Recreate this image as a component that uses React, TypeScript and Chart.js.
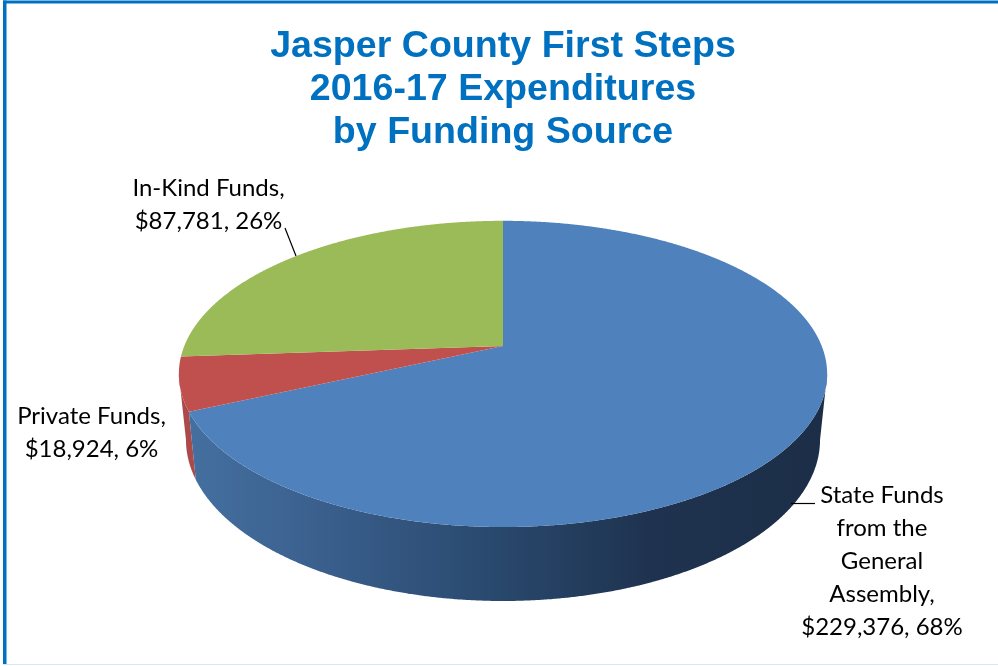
import React, { useEffect, useRef } from "react";
import { Chart, registerables } from "chart.js";

Chart.register(...registerables);

const categories = ["State Funds from the General Assembly", "Private Funds", "In-Kind Funds"];
const expenditures = [229376, 18924, 87781];
const percents = ["68%", "6%", "26%"];
const titleLines = ["Jasper County First Steps", "2016-17 Expenditures", "by Funding Source"];
const topColors = ["#4f81bd", "#c0504d", "#9bbb59"];

const labelLines = [
  ["State Funds", "from the", "General", "Assembly,", "$229,376, 68%"],
  ["Private Funds,", "$18,924, 6%"],
  ["In-Kind Funds,", "$87,781, 26%"],
];
const labelPlacement = [
  { x: 882, y: 503 },
  { x: 91.5, y: 424 },
  { x: 208.5, y: 196 },
];
const leaders = [
  [[791, 503.5], [815, 503.5]],
  null,
  [[285, 228], [296, 256]],
];

const K = 0.183;
const DEG = Math.PI / 180;

function faceProject(cx: number, cy: number, R: number, a: number): [number, number] {
  const u = Math.cos(a), v = Math.sin(a), d = 1 - K * v;
  return [cx + (318.5 / 191) * R * u / d, cy + (147.9 / 191) * R * v / d];
}
function rimProject(cx: number, cy: number, R: number, a: number): [number, number] {
  const u = Math.cos(a), v = Math.sin(a), d = 1 - K * v;
  return [cx + (311.5 / 191) * R * u / d, cy + (64.5 / 191) * R + (155.6 / 191) * R * v / d];
}

const pie3dPlugin = {
  id: "pie3d",
  beforeDraw(chart: any) {
    const { ctx, width, height } = chart;
    ctx.save();
    ctx.fillStyle = "#ffffff";
    ctx.fillRect(0, 0, width, height);
    ctx.fillStyle = "#dce6f1";
    ctx.fillRect(3, height - 2, width - 3, 1);
    ctx.fillStyle = "#0070c0";
    ctx.fillRect(3, 0.5, width - 3, 3);
    ctx.fillRect(3, 0.5, 3.5, height - 2.5);
    ctx.restore();
  },
  beforeDatasetDraw(chart: any) {
    const { ctx } = chart;
    const arcs = chart.getDatasetMeta(0).data;
    const sil = Math.asin(K);
    const wall = (a0: number, a1: number, fill: any, R: number, cx: number, cy: number) => {
      ctx.beginPath();
      const n = Math.ceil((a1 - a0) / (0.25 * DEG));
      for (let i = 0; i <= n; i++) {
        const [x, y] = faceProject(cx, cy, R, a0 + ((a1 - a0) * i) / n);
        i ? ctx.lineTo(x, y) : ctx.moveTo(x, y);
      }
      for (let i = n; i >= 0; i--) {
        const [x, y] = rimProject(cx, cy, R, a0 + ((a1 - a0) * i) / n);
        ctx.lineTo(x, y);
      }
      ctx.closePath();
      ctx.fillStyle = fill;
      ctx.fill();
    };
    ctx.save();
    const blue = arcs[0], red = arcs[1];
    const g = ctx.createLinearGradient(185, 0, 827, 0);
    g.addColorStop(0, "#44709f");
    g.addColorStop(0.18, "#3c6291");
    g.addColorStop(0.5, "#28476b");
    g.addColorStop(0.72, "#1f3350");
    g.addColorStop(1, "#1c2e47");
    wall(red.startAngle, Math.PI - sil, "#ab4a48", red.outerRadius, red.x, red.y);
    wall(sil, blue.endAngle, g, blue.outerRadius, blue.x, blue.y);
    arcs.forEach((arc: any) => {
      const n = Math.ceil((arc.endAngle - arc.startAngle) / (0.25 * DEG));
      ctx.beginPath();
      ctx.moveTo(arc.x, arc.y);
      for (let j = 0; j <= n; j++) {
        const [x, y] = faceProject(arc.x, arc.y, arc.outerRadius, arc.startAngle + ((arc.endAngle - arc.startAngle) * j) / n);
        ctx.lineTo(x, y);
      }
      ctx.closePath();
      ctx.fillStyle = arc.options.backgroundColor;
      ctx.fill();
    });
    ctx.restore();
    return false;
  },
  afterDatasetsDraw(chart: any) {
    const { ctx } = chart;
    ctx.save();
    ctx.strokeStyle = "#000000";
    ctx.lineWidth = 1.2;
    leaders.forEach((l) => {
      if (!l) return;
      ctx.beginPath();
      ctx.moveTo(l[0][0], l[0][1]);
      ctx.lineTo(l[1][0], l[1][1]);
      ctx.stroke();
    });
    ctx.fillStyle = "#000000";
    ctx.font = '24px "Lato"';
    ctx.textAlign = "center";
    ctx.textBaseline = "alphabetic";
    labelLines.forEach((lines, i) => {
      lines.forEach((t, j) => ctx.fillText(t, labelPlacement[i].x, labelPlacement[i].y + j * 33));
    });
    ctx.restore();
  },
};

export default function App() {
  const ref = useRef<HTMLCanvasElement>(null);
  useEffect(() => {
    document.body.style.margin = "0";
    const chart = new Chart(ref.current!, {
      type: "pie",
      data: {
        labels: categories,
        datasets: [{ data: expenditures, backgroundColor: topColors, borderWidth: 0 }],
      },
      options: {
        responsive: false,
        devicePixelRatio: 1,
        animation: false,
        layout: { padding: { left: 8, right: 0, top: 0, bottom: 129 } },
        plugins: {
          legend: { display: false },
          tooltip: { enabled: false },
          title: {
            display: true,
            text: titleLines,
            color: "#0070c0",
            align: "center",
            font: { family: '"Liberation Sans"', size: 37.6, weight: "bold", lineHeight: 1.14 },
            padding: { top: 25, bottom: 1.2 },
          },
        },
      },
      plugins: [pie3dPlugin],
    } as any);
    return () => chart.destroy();
  }, []);
  return <canvas ref={ref} width={998} height={666} style={{ display: "block" }} />;
}
